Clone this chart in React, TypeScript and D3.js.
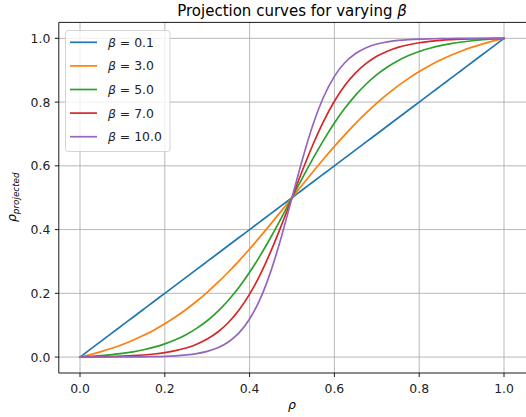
import React from "react";
import * as d3 from "d3";

const rho = [0, 0.025, 0.05, 0.075, 0.1, 0.125, 0.15, 0.175, 0.2, 0.225, 0.25, 0.275, 0.3, 0.325, 0.35, 0.375, 0.4, 0.425, 0.45, 0.475, 0.5,
  0.525, 0.55, 0.575, 0.6, 0.625, 0.65, 0.675, 0.7, 0.725, 0.75, 0.775, 0.8, 0.825, 0.85, 0.875, 0.9, 0.925, 0.95, 0.975, 1];

const beta01 = [0, 0.025, 0.05, 0.075, 0.1, 0.125, 0.15, 0.175, 0.2, 0.225, 0.25, 0.275, 0.3, 0.325, 0.35, 0.375, 0.4, 0.425, 0.45, 0.475, 0.5,
  0.525, 0.55, 0.575, 0.6, 0.625, 0.65, 0.675, 0.7, 0.725, 0.75, 0.775, 0.8, 0.825, 0.85, 0.875, 0.9, 0.925, 0.95, 0.975, 1];
const beta3 = [0, 0.008, 0.0172, 0.0276, 0.0395, 0.0529, 0.0681, 0.0852, 0.1043, 0.1256, 0.1491, 0.1751, 0.2033, 0.234, 0.2669, 0.302, 0.3391, 0.3778, 0.4178, 0.4586, 0.5,
  0.5414, 0.5822, 0.6222, 0.6609, 0.698, 0.7331, 0.766, 0.7967, 0.8249, 0.8509, 0.8744, 0.8957, 0.9148, 0.9319, 0.9471, 0.9605, 0.9724, 0.9828, 0.992, 1];
const beta5 = [0, 0.0019, 0.0044, 0.0075, 0.0114, 0.0165, 0.0229, 0.031, 0.0413, 0.0541, 0.0701, 0.0899, 0.114, 0.1433, 0.1781, 0.2189, 0.2658, 0.3184, 0.3759, 0.437, 0.5,
  0.563, 0.6241, 0.6816, 0.7342, 0.7811, 0.8219, 0.8567, 0.886, 0.9101, 0.9299, 0.9459, 0.9587, 0.969, 0.9771, 0.9835, 0.9886, 0.9925, 0.9956, 0.9981, 1];
const beta7 = [0, 0.0004, 0.0009, 0.0017, 0.0028, 0.0043, 0.0065, 0.0096, 0.0139, 0.02, 0.0285, 0.0403, 0.0565, 0.0787, 0.1084, 0.1474, 0.1973, 0.2588, 0.3315, 0.4132, 0.5,
  0.5868, 0.6685, 0.7412, 0.8027, 0.8526, 0.8916, 0.9213, 0.9435, 0.9597, 0.9715, 0.98, 0.9861, 0.9904, 0.9935, 0.9957, 0.9972, 0.9983, 0.9991, 0.9996, 1];
const beta10 = [0, 0.0, 0.0001, 0.0002, 0.0003, 0.0005, 0.0009, 0.0015, 0.0024, 0.004, 0.0066, 0.0109, 0.0179, 0.0293, 0.0474, 0.0758, 0.1192, 0.1824, 0.2689, 0.3775, 0.5,
  0.6225, 0.7311, 0.8176, 0.8808, 0.9242, 0.9526, 0.9707, 0.9821, 0.9891, 0.9934, 0.996, 0.9976, 0.9985, 0.9991, 0.9995, 0.9997, 0.9998, 0.9999, 1.0, 1];

const seriesLabels = ["0.1", "3.0", "5.0", "7.0", "10.0"];
const seriesValues = [beta01, beta3, beta5, beta7, beta10];
const colors = ["#1f77b4", "#ff7f0e", "#2ca02c", "#d62728", "#9467bd"];
const xTicks = [0, 0.2, 0.4, 0.6, 0.8, 1.0];
const yTicks = [0, 0.2, 0.4, 0.6, 0.8, 1.0];

const W = 526, H = 417;
const L = 58.8, R = 525.2, T = 22.4, B = 373;
const FONT = "DejaVu Sans, sans-serif";
const FS = 12.4;

export default function App() {
  const x = d3.scaleLinear().domain([-0.05, 1.05]).range([L, R]);
  const y = d3.scaleLinear().domain([-0.05, 1.05]).range([B, T]);
  const line = d3.line<number>()
    .x((_, i) => x(rho[i]))
    .y((d) => y(d))
    .curve(d3.curveMonotoneX);

  return (
    <svg width={W} height={H} style={{ position: "absolute", left: 0, top: 0, background: "#fff" }} fontFamily={FONT}>
      <rect width={W} height={H} fill="#fff" />
      <defs>
        <clipPath id="clip">
          <rect x={L} y={T} width={W - L} height={B - T} />
        </clipPath>
      </defs>
      {/* grid */}
      {xTicks.map((t) => (
        <line key={"gx" + t} x1={x(t)} x2={x(t)} y1={T} y2={B} stroke="#b0b0b0" strokeWidth={0.9} />
      ))}
      {yTicks.map((t) => (
        <line key={"gy" + t} x1={L} x2={W} y1={y(t)} y2={y(t)} stroke="#b0b0b0" strokeWidth={0.9} />
      ))}
      {/* curves */}
      <g clipPath="url(#clip)">
        {seriesValues.map((vals, i) => (
          <path key={i} d={line(vals) || ""} fill="none" stroke={colors[i]} strokeWidth={1.7} strokeLinejoin="round" strokeLinecap="square" />
        ))}
      </g>
      {/* spines (right spine falls just outside the picture) */}
      <line x1={L} x2={W} y1={T} y2={T} stroke="#000" strokeWidth={0.9} />
      <line x1={L} x2={W} y1={B} y2={B} stroke="#000" strokeWidth={0.9} />
      <line x1={L} x2={L} y1={T} y2={B} stroke="#000" strokeWidth={0.9} />
      {/* x ticks */}
      {xTicks.map((t) => (
        <g key={"tx" + t}>
          <line x1={x(t)} x2={x(t)} y1={B} y2={B + 4} stroke="#000" strokeWidth={0.9} />
          <text x={x(t)} y={392.5} fontSize={FS} textAnchor="middle" fill="#222">{t.toFixed(1)}</text>
        </g>
      ))}
      {yTicks.map((t) => (
        <g key={"ty" + t}>
          <line x1={L - 4} x2={L} y1={y(t)} y2={y(t)} stroke="#000" strokeWidth={0.9} />
          <text x={L - 8.5} y={y(t) + 4.5} fontSize={FS} textAnchor="end" fill="#222">{t.toFixed(1)}</text>
        </g>
      ))}
      {/* title */}
      <text x={(L + R) / 2} y={16} fontSize={15} textAnchor="middle" fill="#000">
        Projection curves for varying <tspan fontStyle="italic">β</tspan>
      </text>
      {/* x label */}
      <text x={(L + R) / 2} y={409} fontSize={FS} textAnchor="middle" fontStyle="italic" fill="#000">ρ</text>
      {/* y label */}
      <text transform={`translate(16, 222) rotate(-90)`} fontSize={FS} fill="#000" fontStyle="italic">
        ρ<tspan fontSize={8.8} dy={2.8}>projected</tspan>
      </text>
      {/* legend */}
      <rect x={65.5} y={30.5} width={104.5} height={121} rx={2.5} fill="#fff" fillOpacity={0.8} stroke="#d0d0d0" strokeWidth={0.9} />
      {seriesLabels.map((lab, i) => {
        const ly = 42.3 + i * 23.6;
        return (
          <g key={"lg" + i}>
            <line x1={70} x2={97} y1={ly} y2={ly} stroke={colors[i]} strokeWidth={1.7} />
            <text x={108} y={ly + 4.5} fontSize={FS} fill="#222">
              <tspan fontStyle="italic">β</tspan> = {lab}
            </text>
          </g>
        );
      })}
    </svg>
  );
}
